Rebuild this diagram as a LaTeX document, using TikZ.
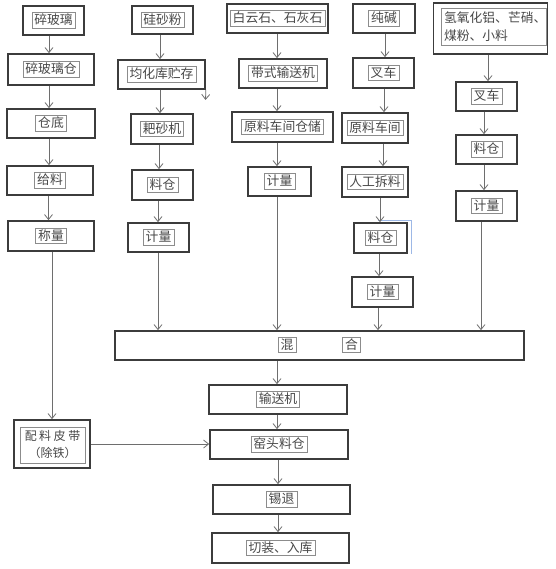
\documentclass[tikz,border=0pt]{standalone}
\usepackage{fontspec}
\newfontfamily\cjk{Noto Sans CJK SC}
\usetikzlibrary{arrows.meta}
\definecolor{boxline}{HTML}{3C3C3C}
\definecolor{inline}{HTML}{8C8C8C}
\definecolor{arrline}{HTML}{6E6E6E}
\definecolor{txt}{HTML}{484848}
\definecolor{selblue}{HTML}{9DB8E6}
\tikzset{
  outer/.style={draw=boxline, line width=1.7pt, rectangle, inner sep=0pt},
  lbl/.style={draw=inline, line width=0.6pt, inner xsep=2.5pt, inner ysep=1.5pt,
    font=\cjk\fontsize{12.8}{15}\selectfont, text=txt, text height=10.5pt, text depth=2pt},
  lbltwo/.style={draw=inline, line width=0.6pt, inner xsep=2.5pt, inner ysep=1.5pt,
    font=\cjk\fontsize{12.8}{18}\selectfont, text=txt},
  arr/.style={draw=arrline, line width=0.8pt, -{Straight Barb[length=5pt,width=8pt]}},
}
% name, center, width, height, text
\newcommand\procbox[5]{%
  \node[outer, minimum width=#3pt, minimum height=#4pt] (#1) at (#2) {};
  \node[lbl] (#1t) at (#1) {#5};}
% from, to, x
\newcommand\vflow[3]{%
  \coordinate (vx) at (#3,0);
  \draw[arr] (#1.south -| vx) -- (#2.north -| vx);}
\begin{document}
\begin{tikzpicture}[x=1pt, y=-1pt]
\fill[white] (0,0) rectangle (555,569);
\useasboundingbox (0,0) rectangle (555,569);

% column 1
\procbox{a1}{53.5,20.5}{61}{29}{碎玻璃}
\procbox{a2}{51,69.5}{86}{31}{碎玻璃仓}
\procbox{a3}{51,123.5}{88}{29}{仓底}
\procbox{a4}{50,180.5}{86}{29}{给料}
\procbox{a5}{51,236}{86}{30}{称量}

% column 2
\procbox{b1}{162.5,20}{61}{28}{硅砂粉}
\procbox{b2}{161.5,74.5}{87}{29}{均化库贮存}
\procbox{b3}{162,129}{62}{30}{耙砂机}
\procbox{b4}{162.5,185}{61}{30}{料仓}
\procbox{b5}{158.5,237.5}{61}{29}{计量}

% column 3
\procbox{c1}{277.5,18.5}{101}{29}{白云石、石灰石}
\procbox{c2}{283,73.5}{88}{29}{带式输送机}
\procbox{c3}{282.5,127}{101}{30}{原料车间仓储}
\procbox{c4}{279.5,181.5}{63}{29}{计量}

% column 4
\procbox{d1}{384,18.5}{62}{29}{纯碱}
\procbox{d2}{383.5,73}{61}{30}{叉车}
\procbox{d3}{375,128}{66}{30}{原料车间}
\procbox{d4}{375,182}{66}{30}{人工拆料}
\procbox{d5}{380.5,238}{53}{30}{料仓}
\procbox{d6}{382.5,292}{61}{30}{计量}
\draw[selblue, line width=0.9pt] ([xshift=-2.5pt,yshift=1.3pt]d5.north) -- ([xshift=4pt,yshift=1.3pt]d5.north east) -- ([xshift=4pt]d5.south east);

% column 5
\node[outer, minimum width=114pt, minimum height=51pt] (e1) at (490.5,28.5) {};
\node[lbltwo, align=left, text width=100pt, minimum height=37pt] (e1t) at (494,26.5) {氢氧化铝、芒硝、\\煤粉、小料};
\procbox{e2}{486.5,96.5}{61}{29}{叉车}
\procbox{e3}{486.5,149.5}{61}{29}{料仓}
\procbox{e4}{486.5,206}{61}{30}{计量}

% mixing
\node[outer, minimum width=409pt, minimum height=29pt] (mix) at (319.5,345.5) {};
\node[lbl] (mixa) at (287,345) {混};
\node[lbl] (mixb) at (351.5,345) {合};

% bottom chain
\procbox{f1}{278,399.5}{138}{29}{输送机}
\procbox{f2}{279,444.5}{138}{29}{窑头料仓}
\procbox{f3}{281.5,499.5}{137}{29}{锡退}
\procbox{f4}{280.5,548}{137}{30}{切装、入库}

% batching belt
\node[outer, minimum width=76pt, minimum height=48pt] (g) at (52,444) {};
\node[lbltwo, align=center, font=\cjk\fontsize{12}{17}\selectfont, minimum width=65pt, minimum height=36pt] (gt) at (52.5,445) {配\hspace{2.5pt}料\hspace{2.5pt}皮\hspace{2.5pt}带\\（除铁）};

% connectors column 1
\vflow{a1}{a2}{49}
\vflow{a2}{a3}{49}
\vflow{a3}{a4}{49}
\vflow{a4}{a5}{48.5}
\vflow{a5}{g}{52}
% column 2
\vflow{b1}{b2}{160}
\vflow{b2}{b3}{160}
\vflow{b3}{b4}{159}
\vflow{b4}{b5}{158}
\vflow{b5}{mix}{158}
\coordinate (stray) at (205.5,100);
\draw[arr] (b2.south east) -- (stray);
% column 3
\vflow{c1}{c2}{277}
\vflow{c2}{c3}{277}
\vflow{c3}{c4}{277}
\vflow{c4}{mix}{277}
% column 4
\vflow{d1}{d2}{385}
\vflow{d2}{d3}{384}
\vflow{d3}{d4}{383}
\vflow{d4}{d5}{380}
\vflow{d5}{d6}{379}
\vflow{d6}{mix}{378}
% column 5
\vflow{e1}{e2}{488}
\vflow{e2}{e3}{484}
\vflow{e3}{e4}{484}
\vflow{e4}{mix}{481}
% bottom
\vflow{mix}{f1}{277}
\vflow{f1}{f2}{277}
\vflow{f2}{f3}{278}
\vflow{f3}{f4}{278}
\draw[arr] (g.east) -- (g.east -| f2.west);
\end{tikzpicture}
\end{document}
